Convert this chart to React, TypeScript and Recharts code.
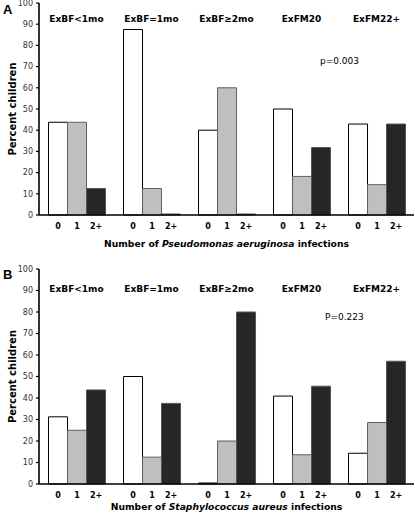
import React from "react";
import { BarChart, Bar, XAxis, YAxis, LabelList } from "recharts";

const groups = ["ExBF<1mo", "ExBF=1mo", "ExBF\u22652mo", "ExFM20", "ExFM22+"];
const countLabels = ["0", "1", "2+"];
const yTicks = [0, 10, 20, 30, 40, 50, 60, 70, 80, 90, 100];

// panel A - Pseudomonas aeruginosa
const paZero = [43.75, 87.5, 40, 50, 42.9];
const paOne = [43.75, 12.5, 60, 18.2, 14.3];
const paTwoPlus = [12.5, 0, 0, 31.8, 42.9];

// panel B - Staphylococcus aureus
const saZero = [31.25, 50, 0, 40.9, 14.3];
const saOne = [25, 12.5, 20, 13.6, 28.6];
const saTwoPlus = [43.75, 37.5, 80, 45.5, 57.1];

const FONT = "'DejaVu Sans', Verdana, sans-serif";

const buildRows = (zero: number[], one: number[], two: number[]) =>
  groups.map((g, i) => ({ group: g, zero: zero[i], one: one[i], two: two[i] }));

const barStyles = [
  { key: "zero", fill: "#ffffff", stroke: "#000000" },
  { key: "one", fill: "#bfbfbf", stroke: "#606060" },
  { key: "two", fill: "#262626", stroke: "#555555" },
];

type PanelProps = {
  rows: any[];
  height: number;
  top: number;
  axisHeight: number;
  groupY: number;
  titleDy: number;
  organism: string;
};

function Panel({ rows, height, top, axisHeight, groupY, titleDy, organism }: PanelProps) {
  return (
    <BarChart
      width={415}
      height={height}
      data={rows}
      margin={{ top: top - 2, right: 1, bottom: 0, left: 0 }}
      barCategoryGap="12.7%"
      barGap={0}
    >
      <XAxis
        xAxisId="top"
        orientation="top"
        dataKey="group"
        height={2}
        mirror
        axisLine={false}
        tickLine={false}
        tickSize={0}
        tickMargin={0}
        interval={0}
        tick={(p: any) => (
          <text
            x={p.x}
            y={groupY}
            textAnchor="middle"
            fontFamily={FONT}
            fontWeight="bold"
            fontSize={9}
            fill="#000"
          >
            {p.payload.value}
          </text>
        )}
      />
      <XAxis
        dataKey="group"
        height={axisHeight}
        tick={false}
        tickLine={false}
        axisLine={{ stroke: "#000", strokeWidth: 1.6 }}
        label={{
          content: ({ viewBox }: any) => (
            <text
              x={viewBox.x + viewBox.width / 2}
              y={viewBox.y + titleDy}
              textAnchor="middle"
              fontFamily={FONT}
              fontWeight="bold"
              fontSize={9.2}
              fill="#000"
            >
              Number of <tspan fontStyle="italic">{organism}</tspan> infections
            </text>
          ),
        }}
      />
      <YAxis
        width={39}
        domain={[0, 100]}
        ticks={yTicks}
        interval={0}
        tickSize={3}
        tickMargin={3}
        axisLine={{ stroke: "#000", strokeWidth: 1.6 }}
        tickLine={{ stroke: "#000", strokeWidth: 1.2 }}
        tick={{ fontFamily: FONT, fontSize: 8, fill: "#333" }}
        label={{
          content: ({ viewBox }: any) => {
            const cx = 12;
            const cy = viewBox.y + viewBox.height / 2;
            return (
              <text
                x={cx}
                y={cy}
                transform={`rotate(-90 ${cx} ${cy})`}
                textAnchor="middle"
                dominantBaseline="central"
                fontFamily={FONT}
                fontWeight="bold"
                fontSize={10}
                fill="#000"
              >
                Percent children
              </text>
            );
          },
        }}
      />
      {barStyles.map((s, i) => (
        <Bar
          key={s.key}
          dataKey={s.key}
          fill={s.fill}
          stroke={s.stroke}
          strokeWidth={1}
          minPointSize={1}
          isAnimationActive={false}
        >
          <LabelList
            position="bottom"
            offset={8}
            formatter={() => countLabels[i]}
            fontFamily={FONT}
            fontWeight="bold"
            fontSize={8}
            fill="#000"
          />
        </Bar>
      ))}
    </BarChart>
  );
}

const overlayText = (extra: React.CSSProperties): React.CSSProperties => ({
  position: "absolute",
  fontFamily: FONT,
  color: "#000",
  lineHeight: 1,
  whiteSpace: "nowrap",
  ...extra,
});

export default function App() {
  return (
    <div
      style={{
        position: "absolute",
        left: 0,
        top: 0,
        width: 415,
        height: 515,
        background: "#fff",
        overflow: "hidden",
      }}
    >
      <div style={{ position: "absolute", left: 0, top: 0 }}>
        <Panel
          rows={buildRows(paZero, paOne, paTwoPlus)}
          height={255}
          top={5}
          axisHeight={40}
          groupY={22}
          titleDy={32}
          organism="Pseudomonas aeruginosa"
        />
      </div>
      <div style={{ position: "absolute", left: 0, top: 256 }}>
        <Panel
          rows={buildRows(saZero, saOne, saTwoPlus)}
          height={259}
          top={15}
          axisHeight={31}
          groupY={36}
          titleDy={26}
          organism="Staphylococcus aureus"
        />
      </div>
      <div style={overlayText({ left: 3, top: 3, fontSize: 13, fontWeight: "bold", fontFamily: "'Liberation Sans', Arial, sans-serif" })}>A</div>
      <div style={overlayText({ left: 3, top: 268, fontSize: 13, fontWeight: "bold", fontFamily: "'Liberation Sans', Arial, sans-serif" })}>B</div>
      <div style={overlayText({ left: 320, top: 57, fontSize: 9 })}>p=0.003</div>
      <div style={overlayText({ left: 325, top: 313, fontSize: 9 })}>P=0.223</div>
    </div>
  );
}
